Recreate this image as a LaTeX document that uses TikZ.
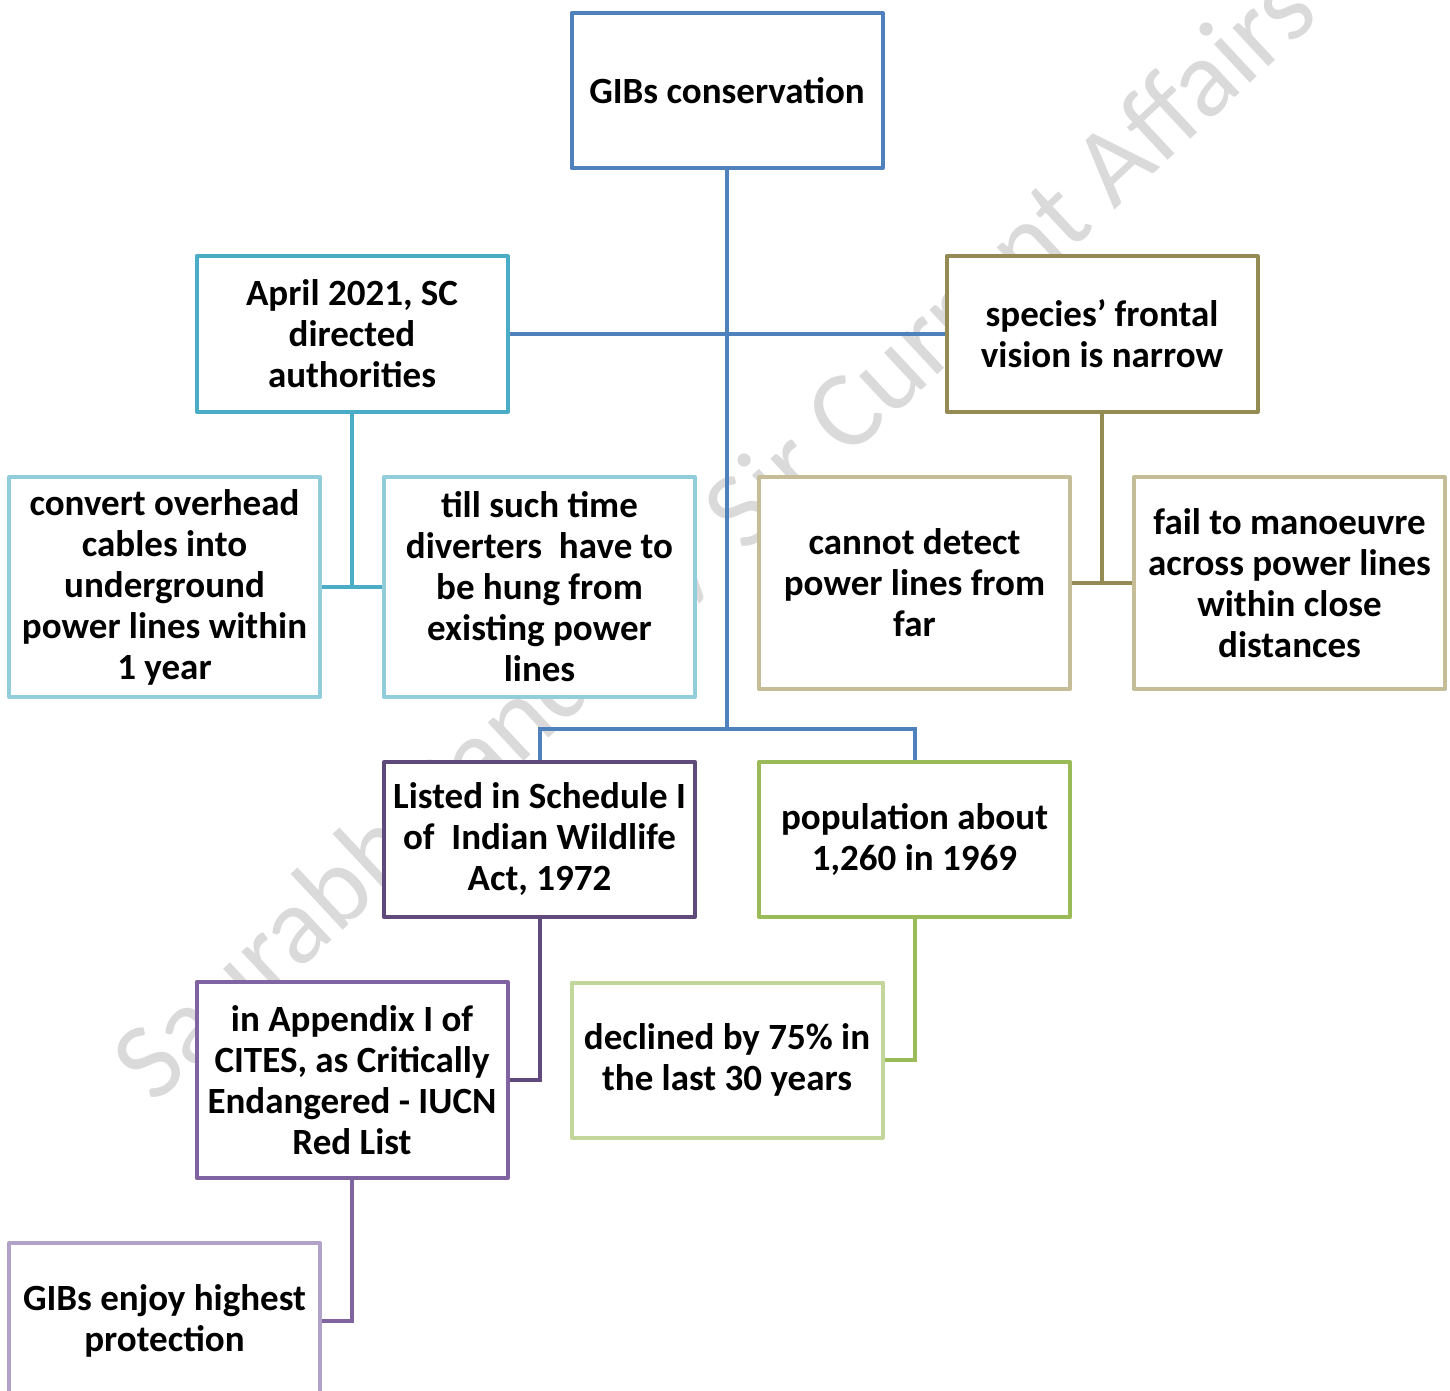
\documentclass[tikz,border=0pt]{standalone}
\usepackage{fontspec}
\setmainfont{Carlito}
\definecolor{cBlue}{HTML}{4F81BD}
\definecolor{cTeal}{HTML}{4BACC6}
\definecolor{cTealL}{HTML}{92CDDC}
\definecolor{cOlive}{HTML}{948A54}
\definecolor{cOliveL}{HTML}{C4BD97}
\definecolor{cPurD}{HTML}{604A7B}
\definecolor{cGreen}{HTML}{9BBB59}
\definecolor{cGreenL}{HTML}{C3D69B}
\definecolor{cPur}{HTML}{8064A2}
\definecolor{cPurL}{HTML}{B2A2C7}
\definecolor{cWater}{HTML}{DADADA}
\tikzset{
  box/.style={draw, fill=white, line width=2pt, line join=round, align=center,
    minimum width=155.5pt, minimum height=77.5pt, inner sep=0pt,
    font=\fontsize{18.5pt}{20.5pt}\selectfont\bfseries},
  conn/.style={line width=2pt},
  water/.style={text=cWater, font=\fontsize{55pt}{55pt}\selectfont, rotate=43, inner sep=0pt}
}
\begin{document}
\begin{tikzpicture}[x=0.5pt,y=-0.5pt]
\useasboundingbox (0,0) rectangle (1450,1391);
\clip (0,0) rectangle (1450,1391);
\node[water] (wm) at (718,540) {Saurabh Pandey / Sir Current Affairs};
% boxes
\node[box, draw=cBlue] (gib) at (727,90.5) {GIBs conservation};
\node[box, draw=cTeal] (apr) at (352,334) {April 2021, SC\\directed\\authorities};
\node[box, draw=cOlive] (spc) at (1102,334) {species’ frontal\\vision is narrow};
\node[box, draw=cTealL, minimum height=110pt] (conv) at (164.5,587) {convert overhead\\cables into\\underground\\power lines within\\1 year};
\node[box, draw=cTealL, minimum height=110pt] (till) at (539.5,587) {till such time\\diverters\ \ have to\\be hung from\\existing power\\lines};
\node[box, draw=cOliveL, minimum height=106pt] (cann) at (914.5,583) {cannot detect\\power lines from\\far};
\node[box, draw=cOliveL, minimum height=106pt] (fail) at (1289.5,583) {fail to manoeuvre\\across power lines\\within close\\distances};
\node[box, draw=cPurD] (list) at (539.5,839.5) {Listed in Schedule I\\of\ \ Indian Wildlife\\Act, 1972};
\node[box, draw=cGreen] (pop) at (914.5,839.5) {population about\\1,260 in 1969};
\node[box, draw=cPur, minimum height=98pt] (app) at (352,1080) {in Appendix I of\\CITES, as Critically\\Endangered - IUCN\\Red List};
\node[box, draw=cGreenL] (decl) at (727,1060) {declined by 75\% in\\the last 30 years};
\node[box, draw=cPurL] (enj) at (164.5,1320.5) {GIBs enjoy highest\\protection};
% connectors
\coordinate (hub) at (727,729);
\draw[conn, cBlue] (gib.south) -- (hub);
\draw[conn, cBlue] (apr.east) -- (spc.west);
\draw[conn, cBlue] (list.north) |- (hub) -| (pop.north);
\draw[conn, cTeal] (apr.south) -- (apr.south |- conv.east);
\draw[conn, cTeal] (conv.east) -- (till.west);
\draw[conn, cOlive] (spc.south) -- (spc.south |- cann.east);
\draw[conn, cOlive] (cann.east) -- (fail.west);
\draw[conn, cPurD] (list.south) |- (app.east);
\draw[conn, cGreen] (pop.south) |- (decl.east);
\draw[conn, cPur] (app.south) |- (enj.east);
\end{tikzpicture}
\end{document}
